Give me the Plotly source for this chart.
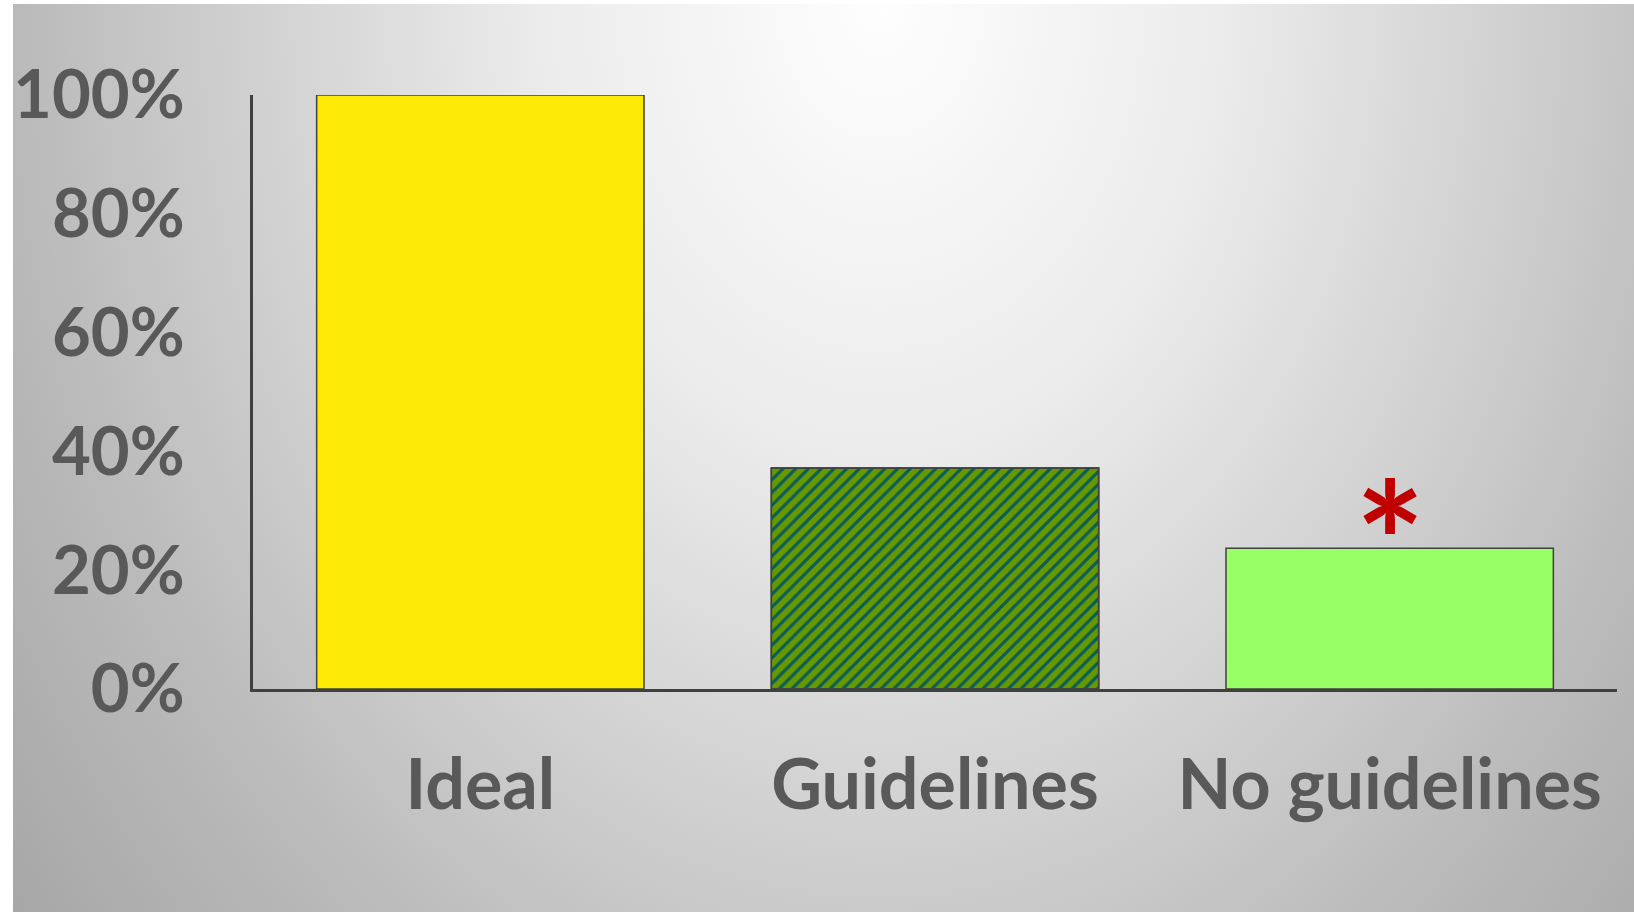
import base64
import plotly.graph_objects as go

categories = ["Ideal", "Guidelines", "No guidelines"]
values = [1.00, 0.372, 0.237]
bar_colors = ["#FCEA04", "#669900", "#99FF66"]
hatched = [False, True, False]
hatch_color = "#0B5C5A"
tick_vals = [0, 0.2, 0.4, 0.6, 0.8, 1.0]
tick_text = ["0%", "20%", "40%", "60%", "80%", "100%"]
marked_category = "No guidelines"

W, H = 1634, 912
L, R, T, B = 253, 17, 95, 223
pw, ph = W - L - R, H - T - B

svg = (
    '<svg xmlns="http://www.w3.org/2000/svg" width="1621" height="908" '
    'viewBox="0 0 1 1" preserveAspectRatio="none">'
    '<defs><radialGradient id="g" gradientUnits="objectBoundingBox" cx="0" cy="0" r="1" '
    'gradientTransform="translate(0.535,0) scale(0.69,1.62)">'
    '<stop offset="0" stop-color="#fefefe"/>'
    '<stop offset="0.31" stop-color="#ebebeb"/>'
    '<stop offset="0.54" stop-color="#d3d3d3"/>'
    '<stop offset="0.77" stop-color="#bababa"/>'
    '<stop offset="1" stop-color="#a6a6a6"/>'
    '</radialGradient></defs>'
    '<rect x="0" y="0" width="1" height="1" fill="url(#g)"/></svg>'
)
src = "data:image/svg+xml;base64," + base64.b64encode(svg.encode()).decode()

fig = go.Figure()
fig.add_trace(go.Bar(
    x=categories, y=values, width=0.72,
    marker=dict(color=bar_colors, line=dict(color="#404040", width=1.5)),
    hoverinfo="skip",
))
fig.add_trace(go.Bar(
    x=categories, y=[v if h else None for v, h in zip(values, hatched)], width=0.72,
    marker=dict(
        color=hatch_color,
        line=dict(color="#404040", width=1.5),
        pattern=dict(shape="/", size=9, solidity=0.36, fillmode="replace"),
    ),
    hoverinfo="skip",
))

fig.add_annotation(
    x=marked_category, y=values[categories.index(marked_category)],
    text="<b>*</b>", showarrow=False, yanchor="bottom", yshift=-92,
    font=dict(family="Lato", size=165, color="#C00000"),
)

bg_x0, bg_y0 = 13, 4
fig.add_layout_image(dict(
    source=src, xref="paper", yref="paper",
    x=(bg_x0 - L) / pw, y=(H - B - bg_y0) / ph,
    sizex=(W - bg_x0) / pw, sizey=(H - bg_y0) / ph,
    xanchor="left", yanchor="top", sizing="stretch", layer="below",
))

fig.update_layout(
    width=W, height=H,
    margin=dict(l=L, r=R, t=T, b=B, autoexpand=False),
    paper_bgcolor="#ffffff", plot_bgcolor="rgba(0,0,0,0)",
    showlegend=False, barmode="overlay",
    font=dict(family="Lato", color="#595959"),
)
fig.update_xaxes(
    range=[-0.5, 2.5], showline=True, linecolor="#404040", linewidth=3,
    showgrid=False, zeroline=False, ticks="",
    tickfont=dict(family="Lato", size=70, color="#595959", weight="bold"),
    ticklabelstandoff=33,
)
fig.update_yaxes(
    range=[0, 1], showline=True, linecolor="#404040", linewidth=3,
    showgrid=False, zeroline=False, ticks="",
    tickvals=tick_vals, ticktext=tick_text,
    tickfont=dict(family="Lato", size=67, color="#595959", weight="bold"),
    ticklabelstandoff=52,
)

fig.write_html("out.html")
